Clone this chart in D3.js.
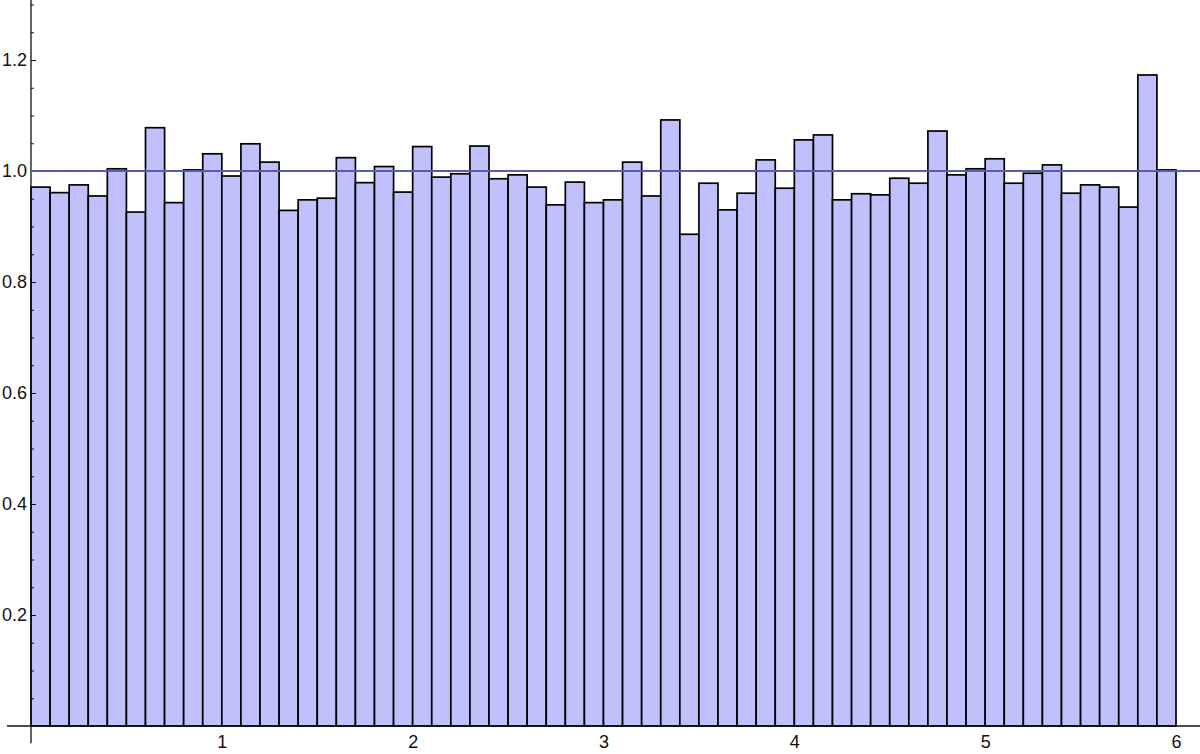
<!DOCTYPE html>
<html>
<meta charset='utf-8'>
<title>Histogram</title>
<style>
  body { margin: 0; background: #fff; }
  .axis text { font: 18px 'Liberation Sans', Arial, sans-serif; fill: #111; }
  .axis line { stroke: #111; }
</style>
<script src='https://d3js.org/d3.v7.min.js'></script>
<body>
<script>
  // bin edges run 0 .. 6 in steps of 0.1
  var binStart = 0, binWidth = 0.1;
  var heights = [
    0.971, 0.961, 0.975, 0.955, 1.004, 0.926, 1.078, 0.943, 1.002, 1.031,
    0.991, 1.049, 1.016, 0.929, 0.948, 0.951, 1.024, 0.979, 1.008, 0.962,
    1.044, 0.989, 0.995, 1.045, 0.986, 0.993, 0.971, 0.939, 0.980, 0.943,
    0.948, 1.016, 0.955, 1.092, 0.886, 0.978, 0.930, 0.960, 1.020, 0.969,
    1.056, 1.065, 0.948, 0.959, 0.957, 0.987, 0.978, 1.072, 0.993, 1.004,
    1.022, 0.978, 0.996, 1.011, 0.960, 0.975, 0.971, 0.935, 1.173, 1.002
  ];
  var refLevel = 1.0;
  var xTicks = [1, 2, 3, 4, 5, 6];
  var yTicks = [0.2, 0.4, 0.6, 0.8, 1.0, 1.2];
  var yMinorTicks = d3.range(1, 27).map(function(i) { return i * 0.05; })
                      .filter(function(v) { return Math.abs(v / 0.2 - Math.round(v / 0.2)) > 1e-6; });

  var width = 1200, height = 754;

  var svg = d3.select('body').append('svg')
      .attr('width', width)
      .attr('height', height);

  var x = d3.scaleLinear().domain([0, 6]).range([31, 1176]);
  var y = d3.scaleLinear().domain([0, 1]).range([726, 171]);

  // bars
  svg.selectAll('rect.bar')
     .data(heights)
     .enter().append('rect')
     .attr('class', 'bar')
     .attr('x', function(d, i) { return x(binStart + i * binWidth); })
     .attr('width', function(d, i) { return x(binStart + (i + 1) * binWidth) - x(binStart + i * binWidth); })
     .attr('y', function(d) { return y(d); })
     .attr('height', function(d) { return y(0) - y(d); })
     .style('fill', '#c0c0fd')
     .style('stroke', '#000')
     .style('stroke-width', 1.7);

  // axis lines
  svg.append('line')
     .attr('x1', x(-0.126)).attr('x2', width)
     .attr('y1', y(0)).attr('y2', y(0))
     .style('stroke', '#111').style('stroke-width', 1.3);
  svg.append('line')
     .attr('x1', x(0)).attr('x2', x(0))
     .attr('y1', 0).attr('y2', y(-0.031))
     .style('stroke', '#111').style('stroke-width', 1.3);

  // y axis, major + minor
  var yAxis = d3.axisLeft(y).tickValues(yTicks).tickSize(-5).tickPadding(4)
                .tickFormat(d3.format('.1f'));
  svg.append('g').attr('class', 'axis')
     .attr('transform', 'translate(' + x(0) + ',0)')
     .call(yAxis)
     .call(function(g) { g.select('.domain').remove(); });

  svg.append('g').attr('class', 'axis')
     .attr('transform', 'translate(' + x(0) + ',0)')
     .call(d3.axisLeft(y).tickValues(yMinorTicks).tickSize(-3).tickFormat(''))
     .call(function(g) { g.select('.domain').remove(); });

  // x axis labels
  svg.append('g').attr('class', 'axis')
     .attr('transform', 'translate(0,' + y(0) + ')')
     .call(d3.axisBottom(x).tickValues(xTicks).tickSize(0).tickPadding(9).tickFormat(d3.format('d')))
     .call(function(g) { g.select('.domain').remove(); });

  // reference line at 1
  svg.append('line')
     .attr('x1', x(0)).attr('x2', x(6.13))
     .attr('y1', y(refLevel)).attr('y2', y(refLevel))
     .style('stroke', '#5c5cae')
     .style('stroke-width', 2);
</script>
</body>
</html>
